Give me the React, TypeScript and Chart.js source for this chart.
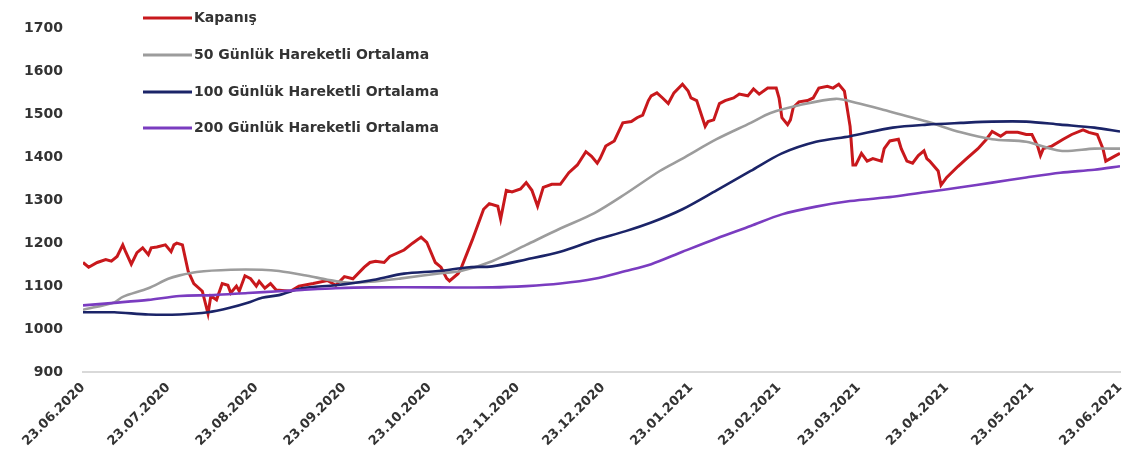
import React, { useEffect, useRef } from "react";
import { Chart, registerables } from "chart.js";

Chart.register(...registerables);

// x values are calendar-day offsets from 23.06.2020
const tickDays = [0, 30, 61, 92, 122, 153, 183, 214, 245, 273, 304, 334, 365];
const tickLabels = [
  "23.06.2020", "23.07.2020", "23.08.2020", "23.09.2020", "23.10.2020", "23.11.2020",
  "23.12.2020", "23.01.2021", "23.02.2021", "23.03.2021", "23.04.2021", "23.05.2021", "23.06.2021",
];

const closeDays = [
  0, 2, 5, 8, 10, 12, 14, 15, 17, 19, 21, 23, 24, 26, 29, 31, 32, 33, 35, 37, 39, 42, 44, 45, 47,
  49, 51, 52, 54, 55, 57, 59, 61, 62, 64, 66, 68, 73, 76, 81, 86, 89, 92, 95, 99, 101, 103, 106,
  108, 113, 116, 119, 121, 124, 126, 128, 129, 132, 133, 137, 141, 143, 146, 147, 149, 151, 154,
  156, 158, 160, 162, 165, 168, 171, 174, 177, 179, 181, 182, 184, 187, 190, 193, 195, 197, 199,
  200, 202, 204, 206, 208, 211, 213, 214, 216, 218, 219, 220, 222, 224, 226, 229, 231, 234, 236,
  238, 241, 244, 245, 246, 248, 249, 250, 252, 255, 257, 259, 262, 264, 266, 268, 270, 271, 272,
  274, 276, 278, 281, 282, 284, 287, 288, 290, 292, 294, 296, 297, 298, 301, 302, 304, 308, 311,
  315, 318, 320, 323, 325, 329, 332, 334, 336, 337, 338, 341, 345, 348, 352, 354, 357, 359, 360,
  363, 365,
];
const closeVals = [
  1155, 1144, 1155, 1162, 1158, 1169, 1196, 1180, 1151, 1178, 1189, 1173, 1189, 1191, 1196, 1180,
  1196, 1200, 1196, 1135, 1106, 1088, 1036, 1077, 1068, 1106, 1102, 1084, 1100, 1088, 1124, 1117,
  1100, 1111, 1095, 1106, 1091, 1088, 1100, 1106, 1113, 1102, 1122, 1117, 1144, 1155, 1158, 1155,
  1169, 1184, 1200, 1214, 1202, 1155, 1144, 1118, 1112, 1129, 1140, 1207, 1279, 1292, 1286, 1256,
  1323, 1319, 1326, 1341, 1323, 1286, 1330, 1337, 1337, 1364, 1382, 1413, 1402, 1386, 1397, 1426,
  1438, 1480, 1483, 1492, 1498, 1532, 1543, 1550, 1538, 1525, 1550, 1570, 1554, 1538, 1532, 1492,
  1472, 1483, 1487, 1525, 1532, 1538, 1547, 1543, 1559, 1547, 1561, 1561, 1538, 1492, 1476, 1487,
  1516, 1529, 1532, 1538, 1561, 1565, 1561, 1570, 1554, 1472, 1382, 1382, 1409, 1391, 1397, 1391,
  1420, 1438, 1442, 1420, 1391, 1386, 1404, 1415, 1397, 1391, 1368, 1335, 1353, 1379, 1397, 1420,
  1442, 1460, 1449, 1458, 1458, 1453, 1453, 1426, 1404, 1420, 1426, 1442, 1453, 1464, 1458, 1453,
  1420, 1391, 1402, 1409,
];

const ma50Days = [0, 11, 14, 23, 30, 34, 40, 52, 63, 69, 79, 86, 93, 101, 112, 126, 133, 144, 156, 168, 180, 191, 203, 211, 223, 235, 242, 252, 265, 272, 282, 297, 309, 320, 332, 344, 356, 365];
const ma50Vals = [1045, 1062, 1075, 1095, 1117, 1125, 1133, 1138, 1138, 1135, 1124, 1115, 1108, 1110, 1118, 1130, 1135, 1158, 1196, 1234, 1270, 1315, 1368, 1397, 1442, 1480, 1503, 1521, 1536, 1527, 1510, 1483, 1458, 1442, 1436, 1415, 1420, 1420];

const ma100Days = [0, 11, 23, 34, 44, 52, 58, 63, 69, 77, 89, 101, 113, 125, 136, 144, 156, 168, 180, 191, 200, 211, 223, 235, 246, 258, 270, 285, 297, 309, 320, 332, 344, 356, 365];
const ma100Vals = [1039, 1039, 1034, 1034, 1039, 1050, 1061, 1073, 1079, 1095, 1102, 1113, 1129, 1135, 1144, 1146, 1162, 1180, 1207, 1228, 1248, 1279, 1323, 1368, 1409, 1436, 1449, 1469, 1476, 1480, 1483, 1483, 1476, 1469, 1460];

const ma200Days = [0, 11, 23, 34, 46, 58, 69, 77, 89, 101, 125, 144, 156, 168, 180, 191, 200, 211, 223, 235, 246, 258, 270, 285, 297, 309, 320, 332, 344, 356, 365];
const ma200Vals = [1055, 1061, 1068, 1077, 1079, 1084, 1088, 1091, 1095, 1097, 1097, 1097, 1100, 1106, 1117, 1135, 1151, 1180, 1211, 1240, 1267, 1285, 1298, 1308, 1319, 1330, 1341, 1353, 1364, 1371, 1379];

const seriesLabels = [
  "Kapanış",
  "50 Günlük Hareketli Ortalama",
  "100 Günlük Hareketli Ortalama",
  "200 Günlük Hareketli Ortalama",
];
const seriesColors = ["#c8181c", "#9c9c9c", "#1b2468", "#7a3cc0"];

const toPoints = (xs: number[], ys: number[]) => xs.map((x, i) => ({ x, y: ys[i] }));

const FONT = "DejaVu Sans";

const legendPlugin = {
  id: "stackedLegend",
  afterDraw(chart: any) {
    const ctx = chart.ctx;
    const ys = [18, 55, 92, 128];
    ctx.save();
    chart.data.datasets.forEach((ds: any, i: number) => {
      const y = ys[i];
      ctx.strokeStyle = ds.borderColor;
      ctx.lineWidth = 3;
      ctx.beginPath();
      ctx.moveTo(143, y);
      ctx.lineTo(192, y);
      ctx.stroke();
      ctx.fillStyle = "#333333";
      ctx.font = `bold 14px '${FONT}'`;
      ctx.textBaseline = "middle";
      ctx.textAlign = "left";
      ctx.fillText(ds.label, 194, y);
    });
    ctx.restore();
  },
};

export default function App() {
  const ref = useRef<HTMLCanvasElement | null>(null);
  useEffect(() => {
    document.body.style.margin = "0";
    const canvas = ref.current!;
    const data = [
      toPoints(closeDays, closeVals),
      toPoints(ma50Days, ma50Vals),
      toPoints(ma100Days, ma100Vals),
      toPoints(ma200Days, ma200Vals),
    ];
    const chart = new Chart(canvas, {
      type: "line",
      data: {
        datasets: data.map((d, i) => ({
          label: seriesLabels[i],
          data: d,
          borderColor: seriesColors[i],
          backgroundColor: seriesColors[i],
          borderWidth: i === 0 ? 3 : 2.6,
          pointRadius: 0,
          tension: i === 0 ? 0 : 0.3,
          order: 4 - i,
        })),
      },
      options: {
        animation: false,
        responsive: false,
        layout: { padding: { top: 15, right: 11, left: 0, bottom: 0 } },
        plugins: { legend: { display: false }, tooltip: { enabled: false } },
        scales: {
          x: {
            type: "linear",
            min: 0,
            max: 365,
            afterBuildTicks: (scale: any) => {
              scale.ticks = tickDays.map((v) => ({ value: v }));
            },
            afterFit: (scale: any) => {
              scale.height = 93;
              scale.paddingRight = 0;
              scale.paddingLeft = 0;
            },
            grid: { display: false, drawTicks: false },
            border: { display: true, color: "#d9d9d9", width: 2 },
            ticks: {
              autoSkip: false,
              minRotation: 45,
              maxRotation: 45,
              padding: 8,
              color: "#333333",
              font: { family: FONT, size: 13, weight: "bold" },
              callback: (v: any) => {
                const idx = tickDays.indexOf(Number(v));
                return idx >= 0 ? tickLabels[idx] : "";
              },
            },
          },
          y: {
            min: 900,
            max: 1700,
            afterFit: (scale: any) => {
              scale.width = 83;
            },
            grid: { display: false, drawTicks: false },
            border: { display: false },
            ticks: {
              stepSize: 100,
              padding: 20,
              color: "#333333",
              font: { family: FONT, size: 14, weight: "bold" },
              callback: (v: any) => String(v),
            },
          },
        },
      },
      plugins: [legendPlugin],
    } as any);
    return () => chart.destroy();
  }, []);
  return <canvas ref={ref} width={1131} height={465} />;
}
